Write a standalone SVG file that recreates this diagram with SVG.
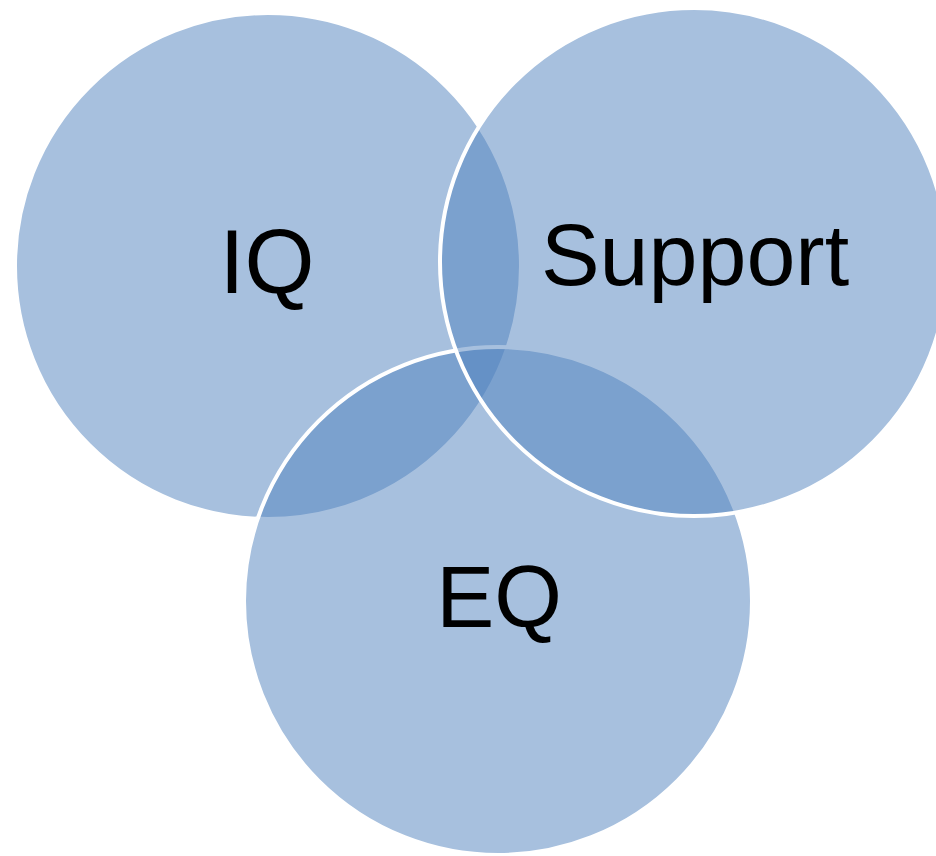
<svg xmlns="http://www.w3.org/2000/svg" width="936" height="856" viewBox="0 0 936 856">
  <style>
    .ring { fill: #4F81BD; fill-opacity: 0.5; stroke: #FFFFFF; stroke-width: 4; }
    .label { font-family: "Liberation Sans", Arial, sans-serif; fill: #000000; text-anchor: middle; }
  </style>
  <rect x="0" y="0" width="936" height="856" fill="#FFFFFF"/>
  <!-- Venn sets, drawn bottom to top: IQ, EQ, Support -->
  <g id="iq">
    <circle class="ring" cx="268" cy="266" r="253"/>
  </g>
  <g id="eq">
    <circle class="ring" cx="498" cy="601" r="254"/>
  </g>
  <g id="support">
    <circle class="ring" cx="694" cy="262" r="254"/>
  </g>
  <g id="labels">
    <text class="label" x="267" y="293" font-size="90">IQ</text>
    <text class="label" x="695" y="285" font-size="88">Support</text>
    <text class="label" x="499" y="627" font-size="87">EQ</text>
  </g>
  <g id="connectors"/>
</svg>
